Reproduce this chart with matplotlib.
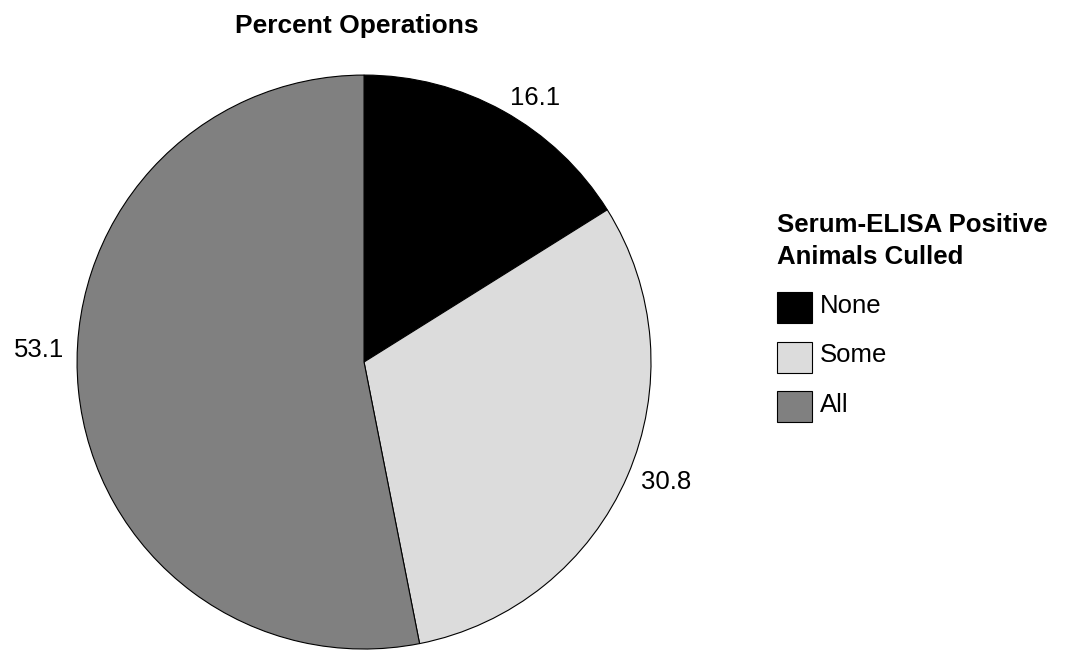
import matplotlib
matplotlib.use('Agg')
import matplotlib.pyplot as plt
from matplotlib.patches import Rectangle

plt.rcParams['font.family'] = ['Liberation Sans', 'DejaVu Sans']

categories = ['None', 'Some', 'All']
percents = [16.1, 30.8, 53.1]
colors = ['#000000', '#dcdcdc', '#808080']
legend_title = ['Serum-ELISA Positive', 'Animals Culled']

W, H = 1068, 650
fig = plt.figure(figsize=(W / 100, H / 100), dpi=100)
# pie axes: center about (364, 362) px, radius about 287 px
ax = fig.add_axes([0.0721, 0.0015, 0.5375, 0.883])
wedges, texts = ax.pie(percents, labels=['%.1f' % p for p in percents],
                       colors=colors, startangle=90, counterclock=False,
                       labeldistance=1.05,
                       wedgeprops=dict(edgecolor='black', linewidth=0.8),
                       textprops=dict(fontsize=18.5))
# the big slice's label sits a bit higher in the original
lx, ly = texts[2].get_position()
texts[2].set_position((lx, ly + 0.145))
ax.set_xlim(-1, 1)
ax.set_ylim(-1, 1)
ax.set_aspect('equal')

fig.text(357 / W, 1 - 33 / H, 'Percent Operations', ha='center', va='baseline',
         fontsize=19, fontweight='bold')

# legend drawn by hand
for k, line in enumerate(legend_title):
    fig.text(777 / W, 1 - (232 + k * 31.5) / H, line, ha='left', va='baseline',
             fontsize=18.6, fontweight='bold')
for i, (cat, col) in enumerate(zip(categories, colors)):
    top = 292 + i * 49.5
    fig.patches.append(Rectangle((777 / W, 1 - (top + 31) / H), 35 / W, 31 / H,
                                 transform=fig.transFigure, facecolor=col,
                                 edgecolor='black', linewidth=0.8))
    fig.text(820 / W, 1 - (top + 21) / H, cat, ha='left', va='baseline', fontsize=18.5)

fig.savefig('out.png', dpi=100)
